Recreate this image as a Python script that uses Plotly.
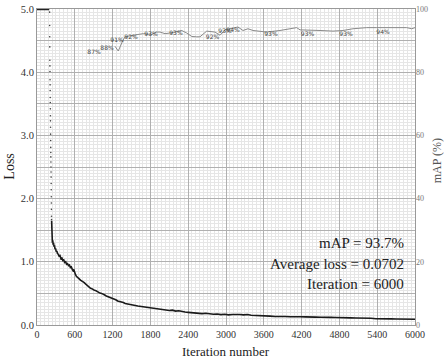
import plotly.graph_objects as go

# ---- data ----
# loss values above 5.0 are clipped at the top of the chart
clip_iter = [0, 60, 120, 195]
clip_loss = [5.0, 5.0, 5.0, 5.0]

# steep drop, drawn as individual dots (one per iteration)
drop_iter = list(range(200, 232))
drop_loss = [4.95, 4.74, 4.56, 4.40, 4.19, 4.10, 4.01, 3.88, 3.80, 3.71, 3.60,
             3.52, 3.42, 3.31, 3.23, 3.13, 3.02, 2.92, 2.81, 2.73, 2.66, 2.58,
             2.50, 2.42, 2.34, 2.24, 2.14, 2.03, 1.93, 1.83, 1.72, 1.67]

loss_iter = [232, 238, 244, 250, 256, 262, 270, 278, 286, 295, 305, 315, 325,
             338, 350, 365, 380, 395, 410, 425, 440, 455, 470, 485, 500, 515,
             530, 545, 560, 572, 584, 596, 610, 625, 640, 655, 670, 690, 710,
             730, 750, 770, 790, 810, 830, 850, 870, 890, 910, 930, 950, 975,
             1000, 1025, 1050, 1075, 1100, 1130, 1160, 1190, 1220, 1250, 1280,
             1310, 1340, 1370, 1400, 1440, 1480, 1520, 1560, 1600, 1640, 1680,
             1720, 1760, 1800, 1850, 1900, 1950, 2000, 2050, 2100, 2150, 2200,
             2250, 2300, 2350, 2400, 2450, 2500, 2560, 2620, 2680, 2740, 2800,
             2860, 2920, 2980, 3040, 3100, 3160, 3220, 3280, 3340, 3400, 3460,
             3520, 3580, 3640, 3700, 3780, 3860, 3940, 4020, 4100, 4180, 4260,
             4340, 4420, 4500, 4580, 4660, 4740, 4820, 4900, 4980, 5060, 5140,
             5220, 5300, 5380, 5460, 5540, 5620, 5700, 5780, 5860, 5940, 6000]
loss_vals = [1.65, 1.42, 1.30, 1.34, 1.27, 1.30, 1.24, 1.26, 1.20, 1.21, 1.16,
             1.17, 1.13, 1.12, 1.09, 1.10, 1.05, 1.06, 1.02, 1.03, 0.99, 1.00,
             0.96, 0.97, 0.94, 0.95, 0.91, 0.92, 0.88, 0.86, 0.88, 0.82, 0.80,
             0.77, 0.76, 0.74, 0.73, 0.71, 0.70, 0.69, 0.67, 0.65, 0.63, 0.62,
             0.60, 0.58, 0.575, 0.56, 0.55, 0.545, 0.53, 0.52, 0.505, 0.50,
             0.48, 0.475, 0.46, 0.45, 0.43, 0.425, 0.41, 0.40, 0.38, 0.375,
             0.36, 0.355, 0.34, 0.335, 0.32, 0.315, 0.31, 0.30, 0.295, 0.29,
             0.28, 0.275, 0.27, 0.26, 0.255, 0.25, 0.24, 0.245, 0.23, 0.235,
             0.22, 0.225, 0.21, 0.205, 0.20, 0.195, 0.19, 0.185, 0.18, 0.185,
             0.175, 0.17, 0.175, 0.165, 0.17, 0.16, 0.165, 0.17, 0.165, 0.16,
             0.165, 0.155, 0.15, 0.145, 0.14, 0.145, 0.14, 0.135, 0.14, 0.135,
             0.13, 0.135, 0.13, 0.128, 0.13, 0.125, 0.122, 0.125, 0.12, 0.118,
             0.12, 0.115, 0.112, 0.11, 0.112, 0.105, 0.106, 0.10, 0.102, 0.098,
             0.097, 0.095, 0.096, 0.093, 0.092, 0.09, 0.091, 0.088, 0.086]

map_iter = [1238, 1290, 1360, 1397, 1529, 1687, 1821, 1900, 1952, 2032, 2111,
            2297, 2376, 2456, 2535, 2587, 2694, 2825, 2905, 2984, 3143, 3190,
            3270, 3349, 3429, 3540, 3646, 3857, 4068, 4122, 4175, 4333, 4492,
            4698, 4857, 5016, 5233, 5392, 5651, 5868, 5948, 6000]
map_vals = [88.2, 86.7, 89.9, 91.2, 91.7, 92.2, 91.9, 92.7, 92.7, 92.2, 92.4,
            93.2, 92.4, 91.3, 91.2, 91.2, 93.0, 92.7, 91.7, 93.4, 94.1, 94.3,
            93.2, 93.75, 93.2, 93.0, 92.7, 93.2, 93.75, 94.1, 93.4, 93.2, 93.2,
            93.0, 93.2, 93.75, 94.1, 94.1, 94.1, 94.1, 93.75, 94.1]

label_iter = [905, 1111, 1270, 1492, 1810, 2206, 2786, 2984, 3111, 3714, 4294, 4905, 5492]
label_map = [86.2, 87.5, 90.0, 91.1, 91.9, 92.2, 91.1, 92.8, 93.2, 91.9, 91.9, 91.9, 92.6]
label_text = ["87%", "88%", "91%", "92%", "93%", "93%", "92%", "93%", "94%",
              "93%", "93%", "93%", "94%"]

x_ticks = list(range(0, 6001, 600))
loss_ticks = [0, 0.5, 1.0, 1.5, 2.0, 2.5, 3.0, 3.5, 4.0, 4.5, 5.0]
loss_ticktext = ["0.0", "", "1.0", "", "2.0", "", "3.0", "", "4.0", "", "5.0"]
map_ticks = [0, 20, 40, 60, 80, 100]

summary_lines = ["mAP = 93.7%", "Average loss = 0.0702", "Iteration = 6000"]

SERIF = "Liberation Serif"

fig = go.Figure()
fig.add_trace(go.Scatter(x=clip_iter, y=clip_loss, mode="lines",
                         line=dict(color="#222222", width=2.5),
                         yaxis="y", showlegend=False, hoverinfo="skip"))
fig.add_trace(go.Scatter(x=drop_iter, y=drop_loss, mode="markers",
                         marker=dict(color="#444444", size=1.6),
                         yaxis="y", showlegend=False, hoverinfo="skip"))
fig.add_trace(go.Scatter(x=loss_iter, y=loss_vals, mode="lines",
                         line=dict(color="#1a1a1a", width=1.6),
                         yaxis="y", showlegend=False))
fig.add_trace(go.Scatter(x=map_iter, y=map_vals, mode="lines",
                         line=dict(color="#8a8a8a", width=1),
                         yaxis="y2", showlegend=False))
fig.add_trace(go.Scatter(x=label_iter, y=label_map, mode="text", text=label_text,
                         textfont=dict(family="DejaVu Sans", size=6, color="#444444"),
                         yaxis="y2", showlegend=False, hoverinfo="skip"))

annotations = []
for i, t in enumerate(summary_lines):
    annotations.append(dict(x=0.976, y=0.258 - i * 0.064, xref="paper", yref="paper",
                            text=t, showarrow=False, xanchor="right", yanchor="middle",
                            font=dict(family=SERIF, size=15, color="#222222")))
annotations.append(dict(x=0.5, y=-0.084, xref="paper", yref="paper",
                        text="Iteration number", showarrow=False,
                        xanchor="center", yanchor="middle",
                        font=dict(family=SERIF, size=13, color="#222222")))
annotations.append(dict(x=-0.075, y=0.5, xref="paper", yref="paper",
                        text="Loss", showarrow=False, textangle=-90,
                        xanchor="center", yanchor="middle",
                        font=dict(family=SERIF, size=14, color="#222222")))
annotations.append(dict(x=1.057, y=0.52, xref="paper", yref="paper",
                        text="mAP (%)", showarrow=False, textangle=-90,
                        xanchor="center", yanchor="middle",
                        font=dict(family=SERIF, size=12, color="#555555")))

fig.update_layout(
    width=444, height=360,
    margin=dict(l=37, r=29, t=5, b=35),
    paper_bgcolor="white", plot_bgcolor="white",
    xaxis=dict(range=[0, 6000], tickvals=x_ticks, ticks="",
               showgrid=True, gridcolor="#b0b0b0", gridwidth=1,
               minor=dict(tickmode="linear", tick0=0, dtick=60, showgrid=True,
                          gridcolor="#e6e6e6", gridwidth=1, ticks=""),
               showline=True, linecolor="#999999", mirror=True, zeroline=False,
               tickfont=dict(family=SERIF, size=10, color="#333333")),
    yaxis=dict(range=[0, 5], tickvals=loss_ticks, ticktext=loss_ticktext, ticks="",
               showgrid=True, gridcolor="#b0b0b0", gridwidth=1,
               minor=dict(tickmode="linear", tick0=0, dtick=0.05, showgrid=True,
                          gridcolor="#e6e6e6", gridwidth=1, ticks=""),
               showline=True, linecolor="#999999", mirror=True, zeroline=False,
               tickfont=dict(family=SERIF, size=10.5, color="#333333")),
    yaxis2=dict(range=[0, 100], tickvals=map_ticks, overlaying="y", side="right",
                showgrid=False, zeroline=False, ticks="", showline=False,
                tickfont=dict(family=SERIF, size=8, color="#777777")),
    annotations=annotations,
)

fig.write_html("out.html")
